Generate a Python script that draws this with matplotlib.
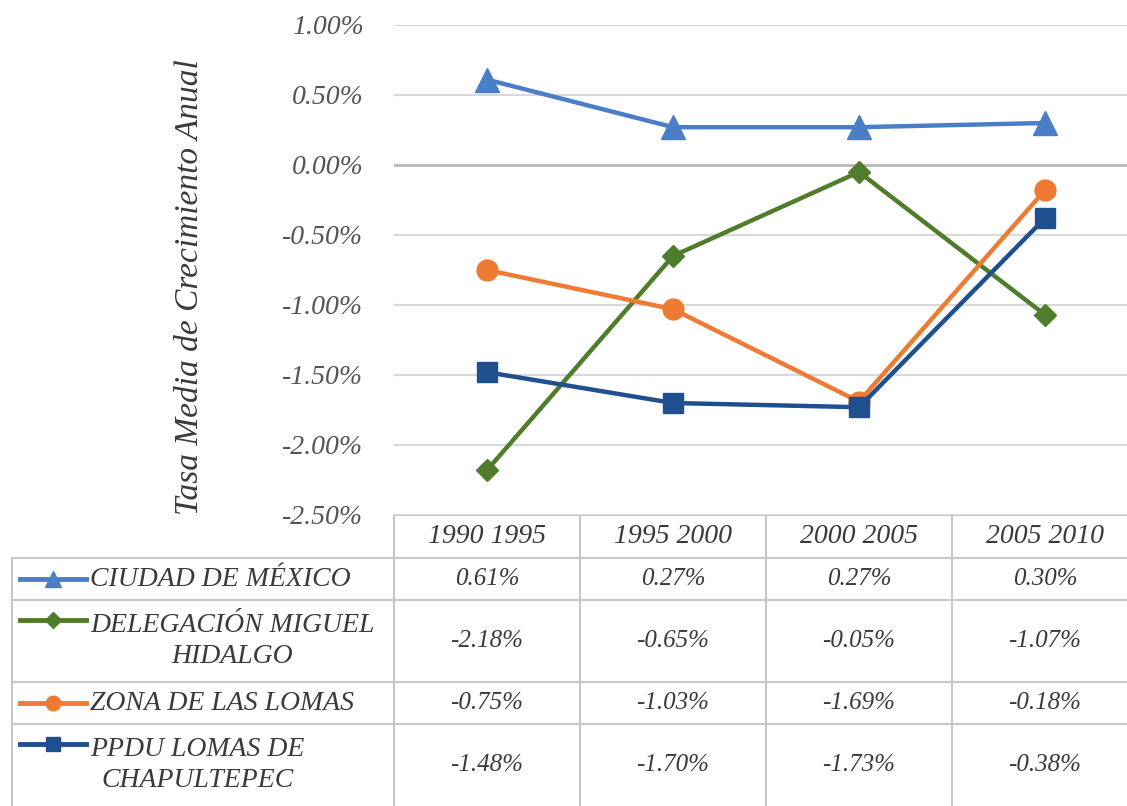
import numpy as np
import matplotlib.pyplot as plt
from matplotlib.lines import Line2D

periodos = ['1990 1995', '1995 2000', '2000 2005', '2005 2010']
series = ['CIUDAD DE MÉXICO', 'DELEGACIÓN MIGUEL\nHIDALGO',
          'ZONA DE LAS LOMAS', 'PPDU LOMAS DE\nCHAPULTEPEC']
cdmx = [0.61, 0.27, 0.27, 0.30]
miguel_hidalgo = [-2.18, -0.65, -0.05, -1.07]
zona_lomas = [-0.75, -1.03, -1.69, -0.18]
ppdu_lomas = [-1.48, -1.70, -1.73, -0.38]
yticks = [1.0, 0.5, 0.0, -0.5, -1.0, -1.5, -2.0, -2.5]

valores = [cdmx, miguel_hidalgo, zona_lomas, ppdu_lomas]
colores = ['#4a7ec6', '#4f7d2c', '#ee7a33', '#1f4f8e']
marcadores = [('^', 17), ('D', 11), ('o', 15), ('s', 15)]

W, H = 1127, 806
fig = plt.figure(figsize=(W / 100, H / 100), dpi=100)
plt.rcParams['font.family'] = ['Liberation Serif', 'DejaVu Serif']
txt = '#3a3a3a'

# plot area in pixels
left, top, bottom, colw = 394, 25, 515, 186
ax = fig.add_axes([left / W, (H - bottom) / H, 4 * colw / W, (bottom - top) / H])
x = np.arange(len(periodos))
for vals, c, (m, ms) in zip(valores, colores, marcadores):
    ax.plot(x, vals, color=c, lw=3.2, marker=m, ms=ms, mec=c, mfc=c, zorder=3)

ax.set_xlim(-0.5, 3.5)
ax.set_ylim(-2.5, 1.0)
ax.set_yticks(yticks)
ax.set_yticklabels([f'{v:.2f}%' for v in yticks], fontsize=20, style='italic', color='#555555')
ax.tick_params(axis='y', length=0, pad=22)
ax.set_xticks([])
for v in yticks:
    ax.axhline(v, color='#b8b8b8' if v == 0 else '#d9d9d9', lw=2 if v == 0 else 1.5, zorder=1)
for s in ax.spines.values():
    s.set_visible(False)
ax.set_ylabel('Tasa Media de Crecimiento Anual', fontsize=24, style='italic', color=txt)
ax.yaxis.set_label_coords((205 - left) / (4 * colw), (bottom - 287) / (bottom - top))

# data table underneath, drawn in pixel coordinates
tab = fig.add_axes([0, 0, 1, 1], zorder=-1)
tab.set_xlim(0, W)
tab.set_ylim(H, 0)
tab.axis('off')
rows = [558, 600, 682, 724, 806]
lc = '#c8c8c8'
tab.plot([left, W], [bottom, bottom], color=lc, lw=1.5)
for y in rows[:-1]:
    tab.plot([12, W], [y, y], color=lc, lw=1.5)
tab.plot([12, 12], [rows[0], H], color=lc, lw=1.5)
for i in range(4):
    xl = left + i * colw
    tab.plot([xl, xl], [bottom, H], color=lc, lw=1.5)

cx = [left + colw * (i + 0.5) for i in range(4)]
for c, p in zip(cx, periodos):
    tab.text(c, (bottom + rows[0]) / 2, p, ha='center', va='center',
             fontsize=20, style='italic', color=txt)

for r, (nombre, vals, c, (m, ms)) in enumerate(zip(series, valores, colores, marcadores)):
    y0, y1 = rows[r], rows[r + 1]
    ym = (y0 + y1) / 2
    multi = '\n' in nombre
    yk = y0 + 20 if multi else ym
    tab.add_line(Line2D([20, 86], [yk, yk], color=c, lw=3.5))
    tab.add_line(Line2D([53], [yk], marker=m, ms=ms * 0.7, color=c, mec=c))
    tab.text(90, ym, nombre, ha='left', va='center', multialignment='center',
             fontsize=20, style='italic', color=txt, linespacing=1.3)
    for xc, v in zip(cx, vals):
        tab.text(xc, ym, f'{v:.2f}%', ha='center', va='center',
                 fontsize=18, style='italic', color=txt)

fig.savefig('out.png', dpi=100)
